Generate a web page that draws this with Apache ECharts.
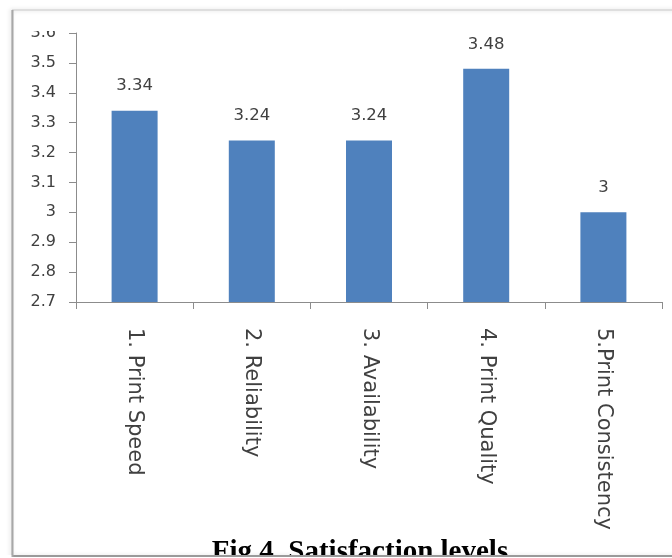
<!DOCTYPE html>
<html>
<head>
<meta charset="utf-8">
<style>
  html, body { margin: 0; padding: 0; background: #ffffff; }
  #chart { width: 672px; height: 558px; }
</style>
<script src="https://cdn.jsdelivr.net/npm/echarts@6/dist/echarts.min.js"></script>
</head>
<body>
<div id="chart"></div>
<script>
// Satisfaction scores per printer attribute
const categories = ['1. Print Speed', '2. Reliability', '3. Availability', '4. Print Quality', '5.Print Consistency'];
const scores = [3.34, 3.24, 3.24, 3.48, 3];
const yMin = 2.7;
const yMax = 3.6;
const yStep = 0.1;
const captionText = 'Fig 4. Satisfaction levels';

const chart = echarts.init(document.getElementById('chart'), null, { renderer: 'canvas' });

const axisGray = '#8c8c8c';
const textGray = '#404040';

chart.setOption({
  animation: false,
  backgroundColor: '#ffffff',
  grid: { left: 76, right: 10, top: 33, bottom: 256, containLabel: false },
  xAxis: {
    type: 'category',
    data: categories,
    boundaryGap: true,
    axisLine: { lineStyle: { color: axisGray, width: 1 } },
    axisTick: { show: true, length: 7, inside: false, alignWithLabel: false, lineStyle: { color: axisGray } },
    axisLabel: {
      rotate: -90,
      margin: 26,
      interval: 0,
      color: textGray,
      fontFamily: 'DejaVu Sans',
      fontSize: 21
    },
    splitLine: { show: false }
  },
  yAxis: {
    type: 'value',
    min: yMin,
    max: yMax,
    interval: yStep,
    axisLine: { show: true, lineStyle: { color: axisGray, width: 1 } },
    axisTick: { show: true, length: 7, inside: false, lineStyle: { color: axisGray } },
    axisLabel: {
      margin: 20,
      color: textGray,
      fontFamily: 'DejaVu Sans',
      fontSize: 16,
      formatter: v => String(Math.round(v * 10) / 10)
    },
    splitLine: { show: false }
  },
  series: [{
    type: 'bar',
    data: scores,
    barWidth: 46,
    itemStyle: { color: '#4f81bd' },
    label: {
      show: true,
      position: 'top',
      distance: 16,
      color: textGray,
      fontFamily: 'DejaVu Sans',
      fontSize: 16.5,
      formatter: p => String(p.value)
    }
  }],
  graphic: [
    // the top of the frame trims the uppermost axis label
    {
      type: 'rect',
      z: 95,
      shape: { x: 14, y: 11, width: 58, height: 20 },
      style: { fill: '#ffffff' },
      silent: true
    },
    // page frame with a soft shadow on the left
    {
      type: 'rect',
      z: 100,
      shape: { x: 12, y: 10, width: 700, height: 546 },
      style: {
        fill: 'none',
        stroke: '#c8c8c8',
        lineWidth: 1,
        shadowColor: 'rgba(0,0,0,0.25)',
        shadowBlur: 4,
        shadowOffsetX: -1
      },
      silent: true
    },
    {
      type: 'text',
      z: 90,
      style: {
        text: captionText,
        x: 360,
        y: 567,
        align: 'center',
        verticalAlign: 'bottom',
        fill: '#000000',
        font: 'bold 29px "Liberation Serif"'
      },
      silent: true
    },
    // bottom edge of the frame cuts the caption
    {
      type: 'rect',
      z: 110,
      shape: { x: 0, y: 555, width: 672, height: 3 },
      style: { fill: '#ffffff' },
      silent: true
    },
    {
      type: 'line',
      z: 120,
      shape: { x1: 12, y1: 556, x2: 672, y2: 556 },
      style: { stroke: '#9a9a9a', lineWidth: 2 },
      silent: true
    },
    {
      type: 'line',
      z: 120,
      shape: { x1: 12.5, y1: 10, x2: 12.5, y2: 557 },
      style: { stroke: '#a8a8a8', lineWidth: 2 },
      silent: true
    }
  ]
});
</script>
</body>
</html>
